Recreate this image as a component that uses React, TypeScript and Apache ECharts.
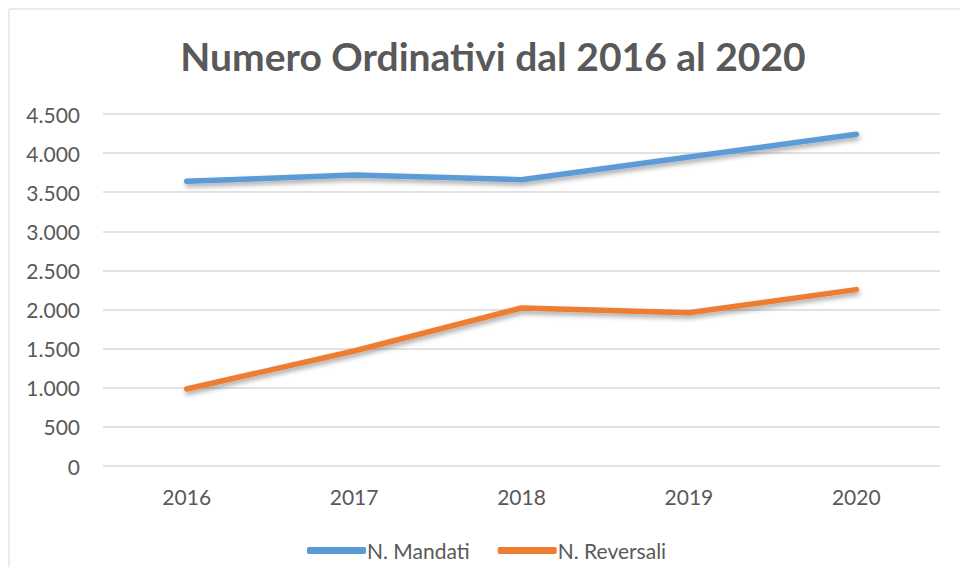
import React, { useEffect, useRef } from "react";
import * as echarts from "echarts";

const titleText = "Numero Ordinativi dal 2016 al 2020";
const categories = ["2016", "2017", "2018", "2019", "2020"];
const seriesNames = ["N. Mandati", "N. Reversali"];
const mandati = [3640, 3720, 3660, 3950, 4240];
const reversali = [985, 1470, 2020, 1960, 2255];
const colors = ["#5B9BD5", "#ED7D31"];

const fmt = (v: number) => String(v).replace(/\B(?=(\d{3})+(?!\d))/g, ".");

export default function App() {
  const ref = useRef<HTMLDivElement>(null);
  useEffect(() => {
    if (!ref.current) return;
    const chart = echarts.init(ref.current, undefined, { renderer: "svg" });
    const font = "Lato, 'Open Sans', sans-serif";
    const lineStyle = (c: string) => ({
      color: c,
      width: 5.5,
      cap: "round" as const,
      join: "round" as const,
      shadowColor: "rgba(0,0,0,0.35)",
      shadowBlur: 5,
      shadowOffsetX: 1,
      shadowOffsetY: 3,
    });
    chart.setOption({
      animation: false,
      backgroundColor: "#ffffff",
      title: {
        text: titleText,
        left: 488,
        textAlign: "center",
        top: 31,
        textStyle: { fontFamily: font, fontWeight: "bold", fontSize: 39, color: "#595959" },
      },
      graphic: [
        {
          type: "rect",
          shape: { x: 9, y: 9, width: 1000, height: 600 },
          style: { fill: "none", stroke: "#d9d9d9", lineWidth: 1 },
          silent: true,
        },
      ],
      legend: {
        data: seriesNames.map((n) => ({ name: n })),
        top: 535,
        left: 302,
        icon: "roundRect",
        itemWidth: 59,
        itemHeight: 7,
        itemGap: 28,
        textStyle: { fontFamily: font, fontSize: 21, color: "#595959", padding: [0, 0, 0, -4] },
      },
      grid: { left: 103, right: 20, top: 114, bottom: 101 },
      xAxis: {
        type: "category",
        data: categories,
        boundaryGap: true,
        axisLine: { show: false },
        axisTick: { show: false },
        axisLabel: { fontFamily: font, fontSize: 21, color: "#595959", margin: 20 },
      },
      yAxis: {
        type: "value",
        min: 0,
        max: 4500,
        interval: 500,
        axisLine: { show: false },
        axisTick: { show: false },
        axisLabel: { fontFamily: font, fontSize: 21, color: "#595959", margin: 23, formatter: (v: number) => fmt(v) },
        splitLine: { lineStyle: { color: "#d9d9d9", width: 1.5 } },
      },
      series: [
        {
          name: seriesNames[0],
          type: "line",
          data: mandati,
          color: colors[0],
          showSymbol: false,
          symbol: "none",
          lineStyle: lineStyle(colors[0]),
        },
        {
          name: seriesNames[1],
          type: "line",
          data: reversali,
          color: colors[1],
          showSymbol: false,
          symbol: "none",
          lineStyle: lineStyle(colors[1]),
        },
      ],
    });
    return () => chart.dispose();
  }, []);
  return (
    <div
      ref={ref}
      style={{ position: "fixed", left: 0, top: 0, width: 960, height: 567, background: "#fff" }}
    />
  );
}
